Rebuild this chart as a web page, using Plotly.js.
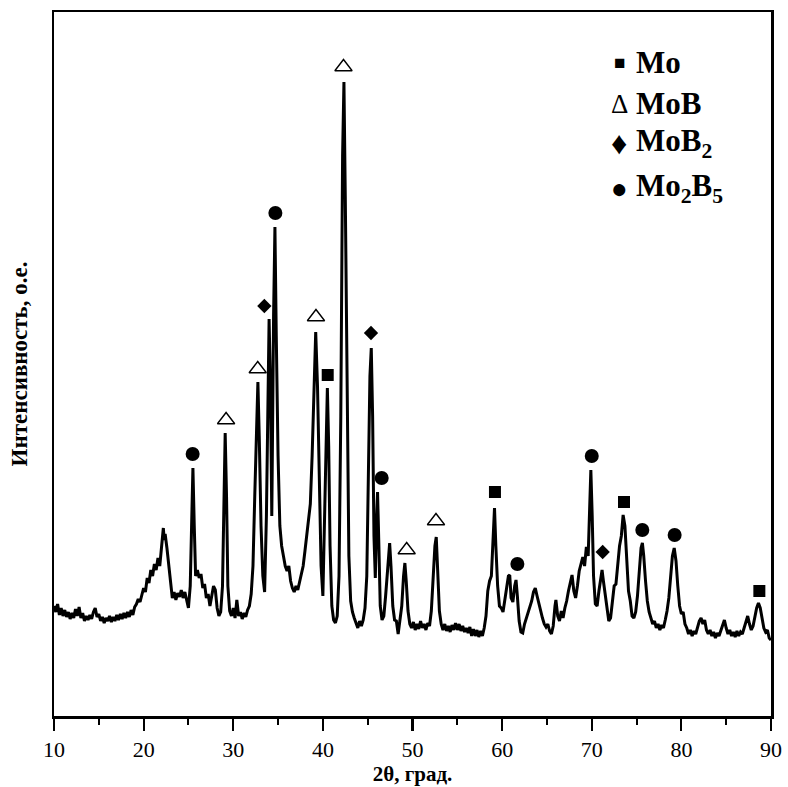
<!DOCTYPE html>
<html>
<head>
<meta charset="utf-8">
<script src="https://cdn.plot.ly/plotly-3.0.1.min.js"></script>
<style>html,body{margin:0;padding:0;background:#fff;}#chart{width:788px;height:787px;}</style>
</head>
<body>
<div id="chart"></div>
<script>
// XRD pattern: 2θ (deg) and intensity (arb. units)
const twoTheta = [
10.0,10.2,10.4,10.6,10.8,11.0,11.2,11.4,11.6,11.8,12.0,12.2,12.4,12.6,12.8,13.0,13.2,13.4,13.6,13.8,
14.0,14.2,14.4,14.6,14.8,15.0,15.2,15.4,15.6,15.8,16.0,16.2,16.4,16.6,16.8,17.0,17.2,17.4,17.6,17.8,
18.0,18.2,18.4,18.6,18.8,19.0,19.2,19.4,19.6,19.8,20.0,20.2,20.4,20.6,20.8,21.0,21.2,21.4,21.6,21.8,
22.0,22.2,22.3,22.4,22.6,22.8,23.0,23.2,23.4,23.6,23.8,24.0,24.2,24.4,24.6,24.8,25.0,25.2,25.35,25.5,
25.65,25.8,26.0,26.2,26.4,26.6,26.8,27.0,27.2,27.4,27.6,27.8,28.0,28.2,28.4,28.6,28.8,28.95,29.1,29.25,
29.4,29.6,29.8,30.0,30.2,30.4,30.6,30.8,31.0,31.2,31.4,31.6,31.8,32.0,32.2,32.4,32.6,32.75,32.9,33.1,
33.3,33.5,33.7,33.85,34.0,34.15,34.3,34.5,34.65,34.8,35.0,35.2,35.4,35.6,35.8,36.0,36.2,36.4,36.6,36.8,
37.0,37.2,37.4,37.6,37.8,38.0,38.2,38.4,38.6,38.8,39.0,39.2,39.4,39.6,39.8,40.0,40.2,40.35,40.5,40.65,
40.8,41.0,41.2,41.4,41.6,41.8,42.0,42.2,42.35,42.5,42.7,42.9,43.1,43.3,43.5,43.7,43.9,44.1,44.3,44.5,
44.7,44.9,45.1,45.25,45.4,45.55,45.7,45.85,46.0,46.1,46.25,46.4,46.6,46.8,47.0,47.3,47.45,47.6,47.8,48.0,
48.2,48.4,48.6,48.8,49.0,49.15,49.3,49.5,49.7,49.9,50.1,50.3,50.5,50.7,50.9,51.1,51.3,51.5,51.7,51.9,
52.1,52.3,52.5,52.65,52.8,53.0,53.2,53.4,53.6,53.8,54.0,54.2,54.4,54.6,54.8,55.0,55.2,55.4,55.6,55.8,
56.0,56.2,56.4,56.6,56.8,57.0,57.2,57.4,57.6,57.8,58.0,58.2,58.4,58.6,58.8,59.0,59.15,59.3,59.5,59.7,
59.9,60.1,60.3,60.5,60.7,60.85,61.0,61.2,61.4,61.55,61.7,61.9,62.1,62.3,62.5,62.7,62.9,63.1,63.3,63.5,
63.7,63.9,64.1,64.3,64.5,64.7,64.9,65.1,65.3,65.5,65.7,65.9,66.0,66.2,66.4,66.6,66.8,67.0,67.2,67.4,
67.6,67.8,68.0,68.2,68.4,68.6,68.8,69.0,69.2,69.4,69.6,69.75,69.9,70.05,70.2,70.4,70.6,70.8,71.0,71.15,
71.3,71.5,71.7,71.9,72.1,72.3,72.5,72.7,72.9,73.1,73.3,73.5,73.7,73.9,74.1,74.3,74.5,74.7,74.9,75.1,
75.3,75.5,75.65,75.8,76.0,76.2,76.4,76.6,76.8,77.0,77.2,77.4,77.6,77.8,78.0,78.2,78.4,78.6,78.8,79.0,
79.2,79.4,79.6,79.8,80.0,80.2,80.4,80.6,80.8,81.0,81.2,81.4,81.6,81.8,82.0,82.2,82.4,82.6,82.8,83.0,
83.2,83.4,83.6,83.8,84.0,84.2,84.4,84.6,84.8,85.0,85.2,85.4,85.6,85.8,86.0,86.2,86.4,86.6,86.8,87.0,
87.2,87.4,87.6,87.8,88.0,88.2,88.4,88.6,88.8,89.0,89.2,89.4,89.6,89.8,90.0
];
const intensity = [
110,104,112,101,108,100,106,99,104,97,103,98,107,100,109,98,103,95,100,96,
101,97,104,108,99,102,95,99,93,98,95,100,94,99,95,101,96,102,97,103,
98,104,99,106,101,109,112,117,114,122,128,124,138,133,146,140,152,146,158,150,
170,188,176,182,168,150,130,118,124,116,123,119,126,118,124,114,108,130,200,248,
190,140,146,138,142,128,132,118,122,110,120,130,126,108,100,104,130,230,283,220,
130,105,100,108,98,116,100,104,97,103,99,106,110,122,150,220,300,334,280,190,
140,124,200,330,397,330,200,400,489,380,260,190,170,160,150,145,150,135,128,124,
130,126,134,140,150,165,180,195,212,260,330,384,330,220,150,120,200,290,328,270,
170,110,96,93,100,140,300,560,634,520,300,160,115,104,98,92,88,95,90,96,
108,140,260,340,368,300,180,138,200,224,170,110,96,100,120,150,173,150,110,96,
95,82,98,110,140,153,135,105,92,88,94,86,92,87,95,88,92,86,93,90,
105,140,170,179,150,105,92,86,92,85,90,84,91,86,93,86,92,85,90,84,
88,83,89,80,87,80,86,79,85,80,88,100,125,135,140,190,208,170,130,110,
108,104,118,128,140,141,118,114,130,136,120,95,84,83,92,98,104,108,115,124,
128,120,112,104,98,92,89,92,85,82,90,110,116,100,95,105,98,108,115,125,
135,141,125,118,130,145,152,159,150,169,160,200,246,200,140,112,110,125,140,146,
135,120,105,95,98,112,130,132,150,170,180,201,190,150,125,115,100,98,104,120,
145,168,173,160,135,115,104,98,92,95,88,92,86,91,88,96,105,118,140,160,
168,155,130,110,102,104,92,88,82,86,80,85,82,88,95,98,92,96,86,82,
86,80,84,78,83,80,86,90,96,88,82,86,80,84,79,85,80,84,82,88,
94,100,92,86,90,100,108,113,108,98,88,84,86,78,76
];

// Phase identification markers (peak positions and label heights)
const moX = [40.54, 59.2, 73.6, 88.7];
const moY = [341, 224, 214, 125];
const mobX = [29.2, 32.73, 39.23, 42.3, 49.35, 52.62];
const mobY = [296, 347, 399, 649, 166, 195];
const mob2X = [33.47, 45.37, 71.22];
const mob2Y = [410, 383, 164];
const mo2b5X = [25.47, 34.7, 46.56, 61.7, 70.0, 75.64, 79.25];
const mo2b5Y = [262, 503, 238, 152, 260, 186, 181];

const legendSymbols = ['■', 'Δ', '♦', '●'];
const legendNames = ['Mo', 'MoB', 'MoB<sub>2</sub>', 'Mo<sub>2</sub>B<sub>5</sub>'];

const serif = 'Liberation Serif, Times New Roman, serif';

const traces = [
  {x: twoTheta, y: intensity, mode: 'lines', line: {color: '#000', width: 3}, hoverinfo: 'skip', showlegend: false},
  {x: moX, y: moY, mode: 'markers', marker: {symbol: 'square', size: 12, color: '#000'}, showlegend: false},
  {x: mobX, y: mobY, mode: 'markers', marker: {symbol: 'triangle-up-open', size: 15, color: '#000', line: {width: 1.4, color: '#000'}}, showlegend: false},
  {x: mob2X, y: mob2Y, mode: 'markers', marker: {symbol: 'diamond', size: 11, color: '#000'}, showlegend: false},
  {x: mo2b5X, y: mo2b5Y, mode: 'markers', marker: {symbol: 'circle', size: 14, color: '#000'}, showlegend: false}
];

// legend built as annotations (pixel rows converted to paper coords)
const plotL = 54, plotT = 12, plotW = 717, plotH = 704;
const rowsPx = [62, 104, 143, 188];
const symSizes = [19, 27, 32, 28];
const annotations = [];
rowsPx.forEach((py, i) => {
  const yp = 1 - (py - plotT) / plotH;
  annotations.push({xref: 'paper', yref: 'paper', x: (619 - plotL) / plotW, y: yp, xanchor: 'center', yanchor: 'middle',
    text: legendSymbols[i], showarrow: false, font: {family: serif, size: symSizes[i], color: '#000'}});
  annotations.push({xref: 'paper', yref: 'paper', x: (634 - plotL) / plotW, y: yp, xanchor: 'left', yanchor: 'middle',
    text: '<b>' + legendNames[i] + '</b>', showarrow: false, font: {family: serif, size: 31, color: '#000'}});
});

const layout = {
  width: 788, height: 787,
  margin: {l: 54, r: 17, t: 12, b: 71},
  paper_bgcolor: '#fff', plot_bgcolor: '#fff',
  showlegend: false,
  xaxis: {
    range: [10, 90], dtick: 10, tick0: 10,
    showgrid: false, zeroline: false,
    showline: true, mirror: true, linecolor: '#000', linewidth: 2.5,
    ticks: 'outside', ticklen: 12, tickwidth: 2.2, tickcolor: '#000',
    minor: {dtick: 5, ticks: 'outside', ticklen: 6, tickwidth: 2, tickcolor: '#000'},
    tickfont: {family: serif, size: 22, color: '#000'},
    title: {text: '<b>2θ, град.</b>', font: {family: serif, size: 21, color: '#000'}, standoff: 6}
  },
  yaxis: {
    range: [0, 704],
    showgrid: false, zeroline: false, showticklabels: false, ticks: '',
    showline: true, mirror: true, linecolor: '#000', linewidth: 2.5,
    title: {text: '<b>Интенсивность, о.е.</b>', font: {family: serif, size: 23, color: '#000'}, standoff: 18}
  },
  annotations: annotations
};

Plotly.newPlot('chart', traces, layout, {displayModeBar: false, staticPlot: true});
</script>
</body>
</html>
